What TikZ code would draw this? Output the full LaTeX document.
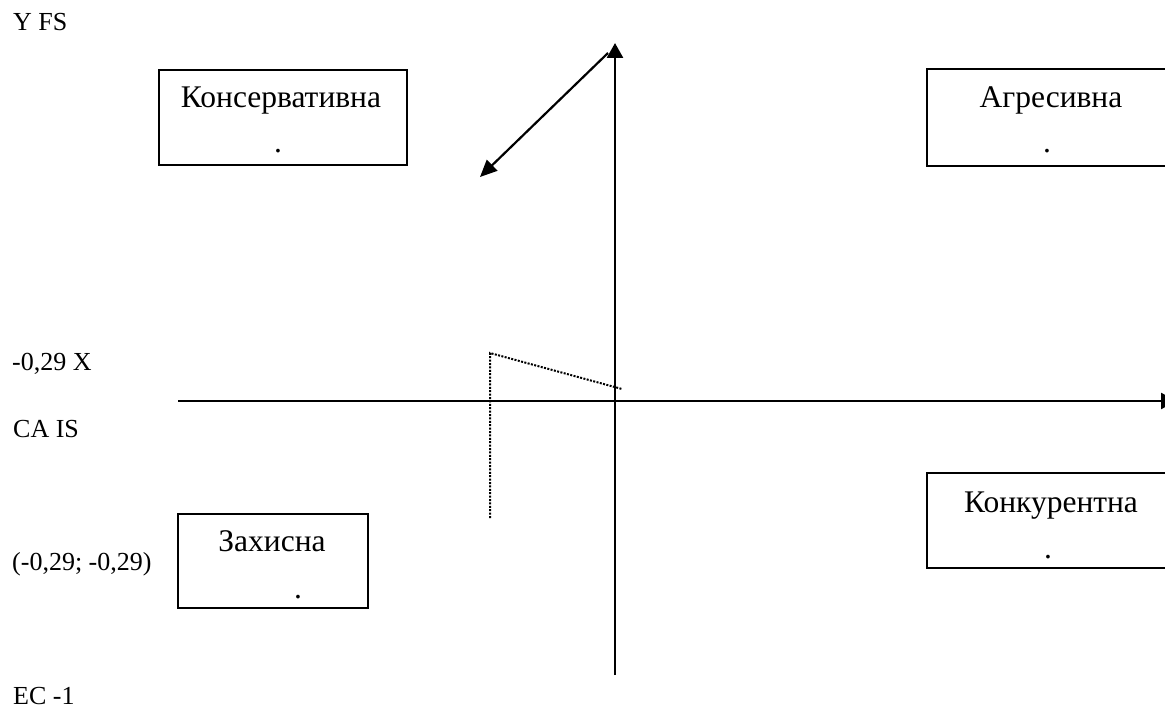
\documentclass[tikz,border=0pt]{standalone}
\usepackage{fontspec}
\setmainfont{Liberation Serif}
\usetikzlibrary{arrows.meta}

\begin{document}
\begin{tikzpicture}[x=1pt,y=-1pt,
  axis/.style={line width=2.7pt},
  tip/.style={-{Triangle[width=16pt,length=15pt]}},
  frame/.style={draw,line width=2pt,inner sep=0pt,outer sep=0pt,anchor=north west},
  lbl/.style={font=\fontsize{26}{31}\selectfont,anchor=base west,inner sep=0pt},
  boxtext/.style={font=\fontsize{31.5}{37}\selectfont,anchor=base,inner sep=0pt},
  guide/.style={line width=2pt,dash pattern=on 2pt off 1.4pt}
]
\useasboundingbox (0,0) rectangle (1165,709);

% side labels
\node[lbl] (yfs) at (13,31) {Y FS};
\node[lbl] (xval) at (12,370) {-0,29 X};
\node[lbl] (cais) at (13,437) {CA IS};
\node[lbl] (pt) at (12,570) {(-0,29; -0,29)};
\node[lbl] (ec) at (13,704) {EC -1};

% axes
\coordinate (xl) at (178,401);
\coordinate (xr) at (1176,401);
\coordinate (yb) at (615,675);
\coordinate (yt) at (615,43);
\draw[axis,tip] (xl) -- (xr);
\draw[axis,tip] (yb) -- (yt);

% diagonal arrow
\coordinate (d1) at (608,53);
\coordinate (d2) at (480,177);
\draw[line width=2.2pt,-{Triangle[width=15pt,length=17pt]}] (d1) -- (d2);

% dotted guide
\coordinate (g1) at (490,518);
\coordinate (g2) at (490,353);
\coordinate (g3) at (622,389);
\draw[guide] (g1) -- (g2) -- (g3);

% strategy boxes
\node[frame,minimum width=248pt,minimum height=95pt] (cons) at (159,70) {};
\node[frame,minimum width=248pt,minimum height=97pt] (aggr) at (927,69) {};
\node[frame,minimum width=190pt,minimum height=94pt] (prot) at (178,514) {};
\node[frame,minimum width=248pt,minimum height=95pt] (comp) at (927,473) {};

\node[boxtext] (consT) at (281,107) {Консервативна};
\node[boxtext] (consD) at (278,152) {.};
\node[boxtext] (aggrT) at (1051,107) {Агресивна};
\node[boxtext] (aggrD) at (1047,152) {.};
\node[boxtext] (protT) at (272,551) {Захисна};
\node[boxtext] (protD) at (298,598) {.};
\node[boxtext] (compT) at (1051,512) {Конкурентна};
\node[boxtext] (compD) at (1048,558) {.};
\end{tikzpicture}
\end{document}
